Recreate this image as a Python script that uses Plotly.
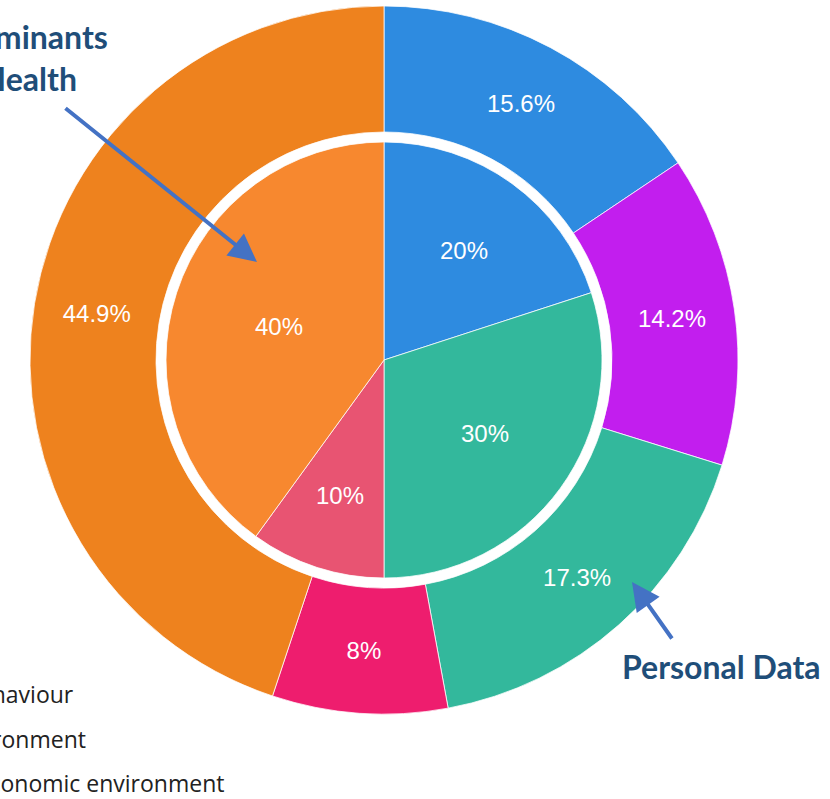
import math
import plotly.graph_objects as go

W, H = 830, 799

# ---- data ----
inner_labels = ["Clinical care", "Physical environment", "Health behaviour", "Socio-economic environment"]
inner_values = [20, 30, 10, 40]
inner_colors = ["#2E8BE0", "#33B89C", "#E85472", "#F7882F"]

outer_labels = ["Clinical care (data)", "Genetics (data)", "Physical environment (data)",
                "Health behaviour (data)", "Socio-economic environment (data)"]
outer_values = [15.6, 14.2, 17.3, 8.0, 44.9]
outer_colors = ["#2E8BE0", "#C21EEE", "#33B89C", "#EE1D6E", "#EE821E"]

legend_texts = ["Health behaviour", "Physical environment", "Socio-economic environment"]

# ---- geometry helpers (pixels -> paper) ----
cx, cy = 384, 360
R_out, R_hole, R_in = 354, 228, 218

def px(x):
    return x / W

def py(y):
    return 1 - y / H

fig = go.Figure()

fig.add_trace(go.Pie(
    labels=outer_labels, values=outer_values,
    hole=R_hole / R_out, sort=False, direction="clockwise", rotation=0,
    marker=dict(colors=outer_colors, line=dict(color="rgba(255,255,255,0.75)", width=1)),
    textinfo="text", text=[f"{v:g}%" for v in outer_values],
    textposition="inside", insidetextorientation="horizontal",
    textfont=dict(family="Liberation Sans, Arial", size=24, color="white"),
    domain=dict(x=[px(cx - R_out), px(cx + R_out)], y=[py(cy + R_out), py(cy - R_out)]),
    hoverinfo="label+percent", showlegend=False,
))

fig.add_trace(go.Pie(
    labels=inner_labels, values=inner_values,
    sort=False, direction="clockwise", rotation=0,
    marker=dict(colors=inner_colors, line=dict(color="rgba(255,255,255,0.75)", width=1)),
    textinfo="none",
    domain=dict(x=[px(cx - R_in), px(cx + R_in)], y=[py(cy + R_in), py(cy - R_in)]),
    hoverinfo="label+percent", showlegend=False,
))

annots = []

# inner pie labels at slice centroids (derived from the values)
total = sum(inner_values)
start = 0.0
for v in inner_values:
    span = 2 * math.pi * v / total
    mid = start + span / 2
    a = span / 2
    r = (2 / 3) * R_in * math.sin(a) / a
    lx = cx + r * math.sin(mid)
    ly = cy - r * math.cos(mid)
    annots.append(dict(text=f"{v:g}%", x=px(lx), y=py(ly), xanchor="center", yanchor="middle",
                       font=dict(family="Liberation Sans, Arial", size=24, color="white"),
                       showarrow=False))
    start += span

title_font = dict(family="Lato", size=32, color="#1F4E79")
annots += [
    dict(text="<b>Determinants</b>", x=px(110), y=py(36), xanchor="right", yanchor="middle",
         font=title_font, showarrow=False),
    dict(text="<b>of Health</b>", x=px(79), y=py(78), xanchor="right", yanchor="middle",
         font=title_font, showarrow=False),
    dict(text="<b>Personal Data</b>", x=px(721), y=py(666), xanchor="center", yanchor="middle",
         font=title_font, showarrow=False),
    # arrows
    dict(text="", x=px(257), y=py(262), ax=64 - 257, ay=107 - 262, showarrow=True,
         arrowhead=2, arrowsize=1.4, arrowwidth=4, arrowcolor="#4472C4", standoff=0),
    dict(text="", x=px(632), y=py(582), ax=673 - 632, ay=640 - 582, showarrow=True,
         arrowhead=2, arrowsize=1.4, arrowwidth=4, arrowcolor="#4472C4", standoff=0),
]

legend_right = [76, 88, 226]
legend_y = [694, 739, 783]
for t, xr, yc in zip(legend_texts, legend_right, legend_y):
    annots.append(dict(text=t, x=px(xr), y=py(yc), xanchor="right", yanchor="middle",
                       font=dict(family="Open Sans", size=23, color="#222222"), showarrow=False))

for a in annots:
    a.setdefault("xref", "paper")
    a.setdefault("yref", "paper")

fig.update_layout(
    width=W, height=H,
    margin=dict(l=0, r=0, t=0, b=0),
    paper_bgcolor="white", plot_bgcolor="white",
    showlegend=False,
    annotations=annots,
)

fig.write_html("out.html", config={"displayModeBar": False},
               post_script="document.body.style.margin='0';document.body.style.overflow='hidden';")
